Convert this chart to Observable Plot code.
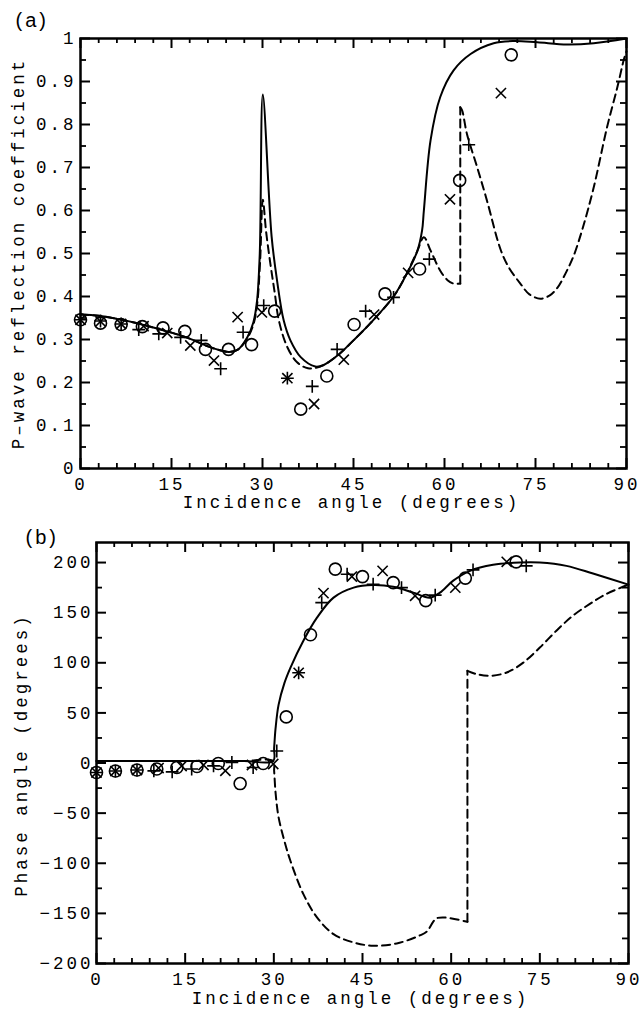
<!DOCTYPE html>
<html><head><meta charset="utf-8">
<script src="https://cdn.jsdelivr.net/npm/d3@7"></script>
<script src="https://cdn.jsdelivr.net/npm/@observablehq/plot@0.6"></script>
<style>
body{margin:0;background:#fff;}
#chart{width:641px;height:1013px;position:relative;}
#chart svg{display:block;}
</style></head><body><div id="chart"></div>
<script>
// ---- tick values ----
const xMajorTicks = [0, 15, 30, 45, 60, 75, 90];
const xMinorTicks = [3, 6, 9, 12, 18, 21, 24, 27, 33, 36, 39, 42, 48, 51, 54, 57, 63, 66, 69, 72, 78, 81, 84, 87];
const aYMajorTicks = [0, 0.1, 0.2, 0.3, 0.4, 0.5, 0.6, 0.7, 0.8, 0.9, 1];
const aYMinorTicks = [0.05, 0.15, 0.25, 0.35, 0.45, 0.55, 0.65, 0.75, 0.85, 0.95];
const bYMajorTicks = [-200, -150, -100, -50, 0, 50, 100, 150, 200];
const bYMinorTicks = [-175, -125, -75, -25, 25, 75, 125, 175];

// ---- panel (a): P-wave reflection coefficient ----
const aSolidAngle = [0,3,6,9,12,15,18,21,23,24.5,26,27.5,28.5,29.1,29.55,30.05,31.5,32.4,33.5,34.6,36.3,38.7,40,42.3,45,47.8,51.6,53.3,55.5,56.3,56.6,57.7,59.3,61.5,64.3,68.1,71.4,75.3,80.2,84.6,90];
const aSolidCoef  = [0.358,0.355,0.348,0.339,0.328,0.316,0.302,0.284,0.275,0.271,0.277,0.305,0.34,0.39,0.5,0.87,0.54,0.437,0.344,0.298,0.259,0.237,0.24,0.262,0.298,0.338,0.4,0.44,0.505,0.553,0.6,0.763,0.864,0.926,0.964,0.989,0.994,0.991,0.986,0.989,1.0];
const aDashAngle = [0,3,6,9,12,15,18,21,23,24.5,26,27.5,28.5,29.1,29.6,30.05,30.6,31.3,32.0,32.7,34.1,35.7,37.5,39.5,42.3,45,47.8,51.6,53.3,55.5,56.6,57.7,59.3,60.5,61.5,62.6,62.6,62.9,63.7,65.4,67.0,69.2,70.5,72.5,74,75.8,77.3,78.6,80,81.3,82.8,84.6,86.8,88.5,89.6,90];
const aDashCoef  = [0.358,0.355,0.348,0.339,0.328,0.316,0.302,0.284,0.275,0.271,0.277,0.303,0.335,0.38,0.48,0.625,0.55,0.476,0.41,0.344,0.282,0.247,0.233,0.237,0.262,0.298,0.338,0.4,0.44,0.505,0.538,0.507,0.46,0.438,0.43,0.43,0.84,0.833,0.778,0.70,0.623,0.511,0.47,0.43,0.405,0.395,0.402,0.42,0.455,0.495,0.56,0.654,0.794,0.887,0.953,0.97];
const aCircleAngle = [0,3.3,6.7,10.2,13.6,17.2,20.6,24.4,28.2,32.0,36.3,40.6,45.1,50.2,55.9,62.5,71.0];
const aCircleCoef  = [0.346,0.338,0.335,0.330,0.327,0.319,0.277,0.277,0.288,0.366,0.138,0.215,0.335,0.406,0.464,0.67,0.962];
const aTimesAngle = [0,3.3,6.7,10.4,14.3,18.1,22.0,25.9,29.9,34.1,38.5,43.4,48.4,54.0,60.9,69.3];
const aTimesCoef  = [0.346,0.342,0.336,0.331,0.315,0.286,0.251,0.352,0.363,0.21,0.150,0.253,0.358,0.455,0.626,0.873];
const aPlusAngle = [0,3.3,6.7,9.6,12.9,16.5,19.9,23.1,26.8,30.2,34.1,38.2,42.3,47.0,51.6,57.5,64.0];
const aPlusCoef  = [0.346,0.343,0.336,0.323,0.313,0.305,0.298,0.232,0.317,0.379,0.21,0.191,0.277,0.366,0.398,0.487,0.753];

// ---- panel (b): phase angle ----
const bSolidAngle = [0,5,10,15,20,25,29.9,30.05,30.3,30.8,31.8,32.8,35,37.3,40.1,43.5,46.8,50.2,53.6,56.4,58.1,60.3,63.2,67.1,71.6,75,79.5,84,90];
const bSolidPhase = [2,2,2,2,2,2,2,15,35,58,80,95,122,145,165,175,177.5,175.8,170,165,170,181.7,191.7,197.7,200,200,196.7,189,178];
const bDashAngle = [0,5,10,15,20,25,29.9,30.05,30.3,30.8,31.8,32.8,35,37.3,40.1,43.5,46.8,50.8,54.7,55.9,57.0,57.5,58.7,62.75,62.75,64.3,66.5,69.4,72.2,75,77.8,80.6,83.4,86.2,90];
const bDashPhase = [2,2,2,2,2,2,2,-8,-30,-54,-78,-97.5,-130.8,-154,-170.7,-179,-182.3,-180,-172,-168,-158,-155,-154,-158.4,92,88.7,87,90.3,100.2,115.2,132,147,158.5,168.5,178];
const bCircleAngle = [0,3.2,6.85,10.2,13.6,17.0,20.6,24.3,28.2,32.1,36.2,40.4,45.0,50.2,55.7,62.4,71.0];
const bCirclePhase = [-9.5,-8,-7,-6,-4.5,-3.5,-0.5,-20.5,-0.5,46,128,193.4,186,180,162,184.5,200.7];
const bTimesAngle = [0,3.2,6.85,10.5,14.4,18.1,21.8,26.3,29.9,34.2,38.4,43.2,48.4,53.9,60.7,69.4];
const bTimesPhase = [-9.5,-8,-7,-5,-3,-2,-7.8,-2,-1,90,169.5,186,191.7,166.8,175,200.7];
const bPlusAngle = [0,3.2,6.85,9.7,12.8,16.1,19.8,22.9,26.5,30.5,34.2,38.1,42.4,46.8,51.6,57.3,63.7,72.7];
const bPlusPhase = [-9.5,-8,-7,-7.8,-8.8,-6,-2.8,0.5,-4.5,12,90,160,188.4,178.4,175,167.5,192.7,196.7];

const MONO = "'Liberation Mono', 'Courier New', monospace";

function series(xs, ys) { return xs.map((x, i) => ({x, y: ys[i]})); }

// split a curve where it jumps vertically (two consecutive points with the same angle)
function splitCurve(xs, ys) {
  const smooth = [], jumps = [];
  let seg = 0;
  for (let i = 0; i < xs.length; i++) {
    if (i > 0 && xs[i] === xs[i - 1]) {
      jumps.push({x: xs[i - 1], y: ys[i - 1], seg}, {x: xs[i], y: ys[i], seg});
      seg++;
    }
    smooth.push({x: xs[i], y: ys[i], seg});
  }
  return {smooth, jumps};
}

function curveMarks(xs, ys, extra) {
  const {smooth, jumps} = splitCurve(xs, ys);
  const base = {x: "x", y: "y", z: "seg", stroke: "black", strokeWidth: 2, ...extra};
  const marks = [Plot.line(smooth, {...base, curve: "catmull-rom"})];
  if (jumps.length) marks.push(Plot.line(jumps, {...base, curve: "linear"}));
  return marks;
}

function panel(o) {
  const W = 641;
  const pw = W - o.ml - o.mr, ph = o.height - o.mt - o.mb;
  const dotStyle = {x: "x", y: "y", stroke: "black", fill: "none", strokeWidth: 1.6};
  return Plot.plot({
    width: W, height: o.height,
    marginTop: o.mt, marginBottom: o.mb, marginLeft: o.ml, marginRight: o.mr,
    x: {domain: [0, 90], axis: null},
    y: {domain: o.yDomain, axis: null},
    style: {fontFamily: MONO, fontSize: "17.5px", letterSpacing: "3px", color: "black", background: "white", overflow: "visible"},
    marks: [
      ...curveMarks(o.dashX, o.dashY, {strokeDasharray: "8,5"}),
      ...curveMarks(o.solidX, o.solidY, {}),
      Plot.dot(series(o.circX, o.circY), {...dotStyle, symbol: "circle", r: 6}),
      Plot.dot(series(o.timesX, o.timesY), {...dotStyle, symbol: "times", r: 4.7}),
      Plot.dot(series(o.plusX, o.plusY), {...dotStyle, symbol: "plus", r: 4.2}),
      Plot.ruleX(xMajorTicks, {insetTop: ph - 10, strokeWidth: 2}),
      Plot.ruleX(xMajorTicks, {insetBottom: ph - 10, strokeWidth: 2}),
      Plot.ruleX(xMinorTicks, {insetTop: ph - 5, strokeWidth: 1.8}),
      Plot.ruleX(xMinorTicks, {insetBottom: ph - 5, strokeWidth: 1.8}),
      Plot.ruleY(o.yMajor, {insetRight: pw - 10, strokeWidth: 2}),
      Plot.ruleY(o.yMajor, {insetLeft: pw - 10, strokeWidth: 2}),
      Plot.ruleY(o.yMinor, {insetRight: pw - 6, strokeWidth: 1.8}),
      Plot.ruleY(o.yMinor, {insetLeft: pw - 6, strokeWidth: 1.8}),
      Plot.frame({stroke: "black", strokeWidth: 2.5}),
      Plot.text(xMajorTicks, {x: d => d, text: d => String(d), frameAnchor: "bottom", dy: o.xTickDy, dx: 0.5, letterSpacing: "2px", lineAnchor: "middle", fill: "black"}),
      Plot.text(o.yMajor, {y: d => d, text: o.yFmt, frameAnchor: "left", textAnchor: "end", dx: o.yTickDx, lineAnchor: "middle", fill: "black"}),
      Plot.text([o.xTitle], {text: d => d, frameAnchor: "bottom", textAnchor: "middle", dy: o.xTitleDy, dx: o.xTitleDx, lineAnchor: "middle", fill: "black"}),
      Plot.text([o.yTitle], {text: d => d, frameAnchor: "left", textAnchor: "middle", rotate: -90, dx: o.yTitleDx, dy: o.yTitleDy, lineAnchor: "middle", fill: "black"}),
      Plot.text([o.tag], {text: d => d, frameAnchor: "top-left", dx: o.tagDx, dy: o.tagDy, textAnchor: "start", lineAnchor: "middle", fontFamily: "'Liberation Sans', Arial, sans-serif", fontSize: 20, letterSpacing: 0, fill: "black"})
    ]
  });
}

const chart = document.getElementById("chart");

chart.append(panel({
  height: 515, mt: 38, mb: 47, ml: 80, mr: 15,
  yDomain: [0, 1], yMajor: aYMajorTicks, yMinor: aYMinorTicks,
  yFmt: d => (d === 0 ? "0" : d === 1 ? "1" : d.toFixed(1)),
  solidX: aSolidAngle, solidY: aSolidCoef, dashX: aDashAngle, dashY: aDashCoef,
  circX: aCircleAngle, circY: aCircleCoef, timesX: aTimesAngle, timesY: aTimesCoef, plusX: aPlusAngle, plusY: aPlusCoef,
  xTickDy: 16, yTickDx: -4,
  xTitle: "Incidence angle (degrees)", xTitleDy: 34, xTitleDx: -2,
  yTitle: "P\u2013wave reflection coefficient", yTitleDx: -62, yTitleDy: 0,
  tag: "(a)", tagDx: -65, tagDy: -18
}));

chart.append(panel({
  height: 498, mt: 27, mb: 50, ml: 96, mr: 13,
  yDomain: [-200, 220], yMajor: bYMajorTicks, yMinor: bYMinorTicks,
  yFmt: d => (d < 0 ? "\u2212" + Math.abs(d) : String(d)),
  solidX: bSolidAngle, solidY: bSolidPhase, dashX: bDashAngle, dashY: bDashPhase,
  circX: bCircleAngle, circY: bCirclePhase, timesX: bTimesAngle, timesY: bTimesPhase, plusX: bPlusAngle, plusY: bPlusPhase,
  xTickDy: 16, yTickDx: -3,
  xTitle: "Incidence angle (degrees)", xTitleDy: 35, xTitleDx: -2,
  yTitle: "Phase angle (degrees)", yTitleDx: -75, yTitleDy: 2,
  tag: "(b)", tagDx: -71, tagDy: -5
}));
</script>
</body></html>
